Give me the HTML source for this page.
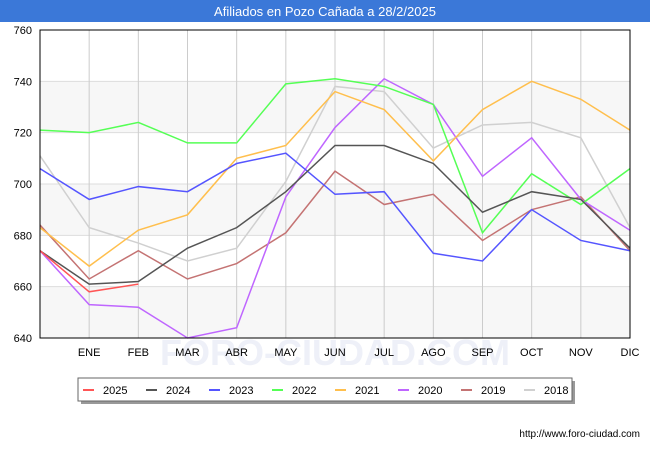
<!DOCTYPE html>
<html><head><meta charset="utf-8"><style>
body{margin:0;width:650px;height:450px;background:#fff;font-family:"Liberation Sans","DejaVu Sans",sans-serif;overflow:hidden}
</style></head><body>
<svg width="650" height="450" viewBox="0 0 650 450" xmlns="http://www.w3.org/2000/svg">
<rect x="0" y="0" width="650" height="22" fill="#3b78d8"/>
<text x="325" y="16" text-anchor="middle" font-size="13" fill="#fff">Afiliados en Pozo Cañada a 28/2/2025</text>
<g id="bands"></g>
<g id="grid"></g>
<text x="335" y="365" text-anchor="middle" font-size="36" fill="#eef0f8" font-weight="bold">FORO-CIUDAD.COM</text>
<g id="series"></g>
<rect x="40" y="30" width="590" height="308" fill="none" stroke="#000" stroke-width="1"/>
<g id="axes"></g>
<rect x="81" y="381" width="494" height="23" fill="#999"/>
<rect x="78" y="378" width="494" height="23" fill="#fff" stroke="#666"/>
<g id="legend"></g>
<text x="640" y="437" text-anchor="end" font-size="10" fill="#000">http://www.foro-ciudad.com</text>
</svg>
<script>
const months=["","ENE","FEB","MAR","ABR","MAY","JUN","JUL","AGO","SEP","OCT","NOV","DIC"];
const yTicks=[640,660,680,700,720,740,760];
const years=["2025","2024","2023","2022","2021","2020","2019","2018"];
const colors=["#ff5555","#555555","#5555ff","#55ff55","#ffbf4d","#bf66ff","#c47373","#d0d0d0"];
const s2025=[674,658,661];
const s2024=[674,661,662,675,683,697,715,715,708,689,697,694,675];
const s2023=[706,694,699,697,708,712,696,697,673,670,690,678,674];
const s2022=[721,720,724,716,716,739,741,738,731,681,704,692,706];
const s2021=[683,668,682,688,710,715,736,729,709,729,740,733,721];
const s2020=[674,653,652,640,644,695,722,741,731,703,718,694,682];
const s2019=[684,663,674,663,669,681,705,692,696,678,690,695,674];
const s2018=[711,683,677,670,675,701,738,736,714,723,724,718,683];
const allSeries=[s2025,s2024,s2023,s2022,s2021,s2020,s2019,s2018];
const NS="http://www.w3.org/2000/svg";
const X0=40,X1=630,Y0=338,Y1=30,VMIN=640,VMAX=760;
const xS=i=>X0+i*(X1-X0)/12;
const yS=v=>Y0-(v-VMIN)*(Y0-Y1)/(VMAX-VMIN);
function mk(tag,attrs,parent){const e=document.createElementNS(NS,tag);for(const k in attrs)e.setAttribute(k,attrs[k]);parent.appendChild(e);return e;}
const bands=document.getElementById('bands'),grid=document.getElementById('grid'),axes=document.getElementById('axes'),ser=document.getElementById('series'),leg=document.getElementById('legend');
for(let k=0;k<yTicks.length-1;k++){
  if(k%2===0){const r=mk('rect',{x:X0,y:yS(yTicks[k+1]),width:X1-X0,height:yS(yTicks[k])-yS(yTicks[k+1]),fill:'#f7f7f7'},bands);
  
  }
}
yTicks.forEach(t=>{
  const l=mk('line',{x1:X0,x2:X1,y1:yS(t),y2:yS(t),stroke:'#dddddd'},grid);
  
  
  const tx=mk('text',{x:X0-8,y:yS(t)+4,'text-anchor':'end','font-size':'11',fill:'#000'},axes);
  tx.textContent=t;
  
  
});
months.forEach((m,i)=>{
  if(i===0)return;
  const l=mk('line',{x1:xS(i),x2:xS(i),y1:Y1,y2:Y0,stroke:'#cccccc'},grid);
  
  
  const tx=mk('text',{x:xS(i),y:356,'text-anchor':'middle','font-size':'11',fill:'#000'},axes);
  tx.textContent=m;
  
  
});
for(let s=allSeries.length-1;s>=0;s--){
  const pts=allSeries[s].map((v,i)=>xS(i)+','+yS(v)).join(' ');
  const p=mk('polyline',{points:pts,fill:'none',stroke:colors[s],'stroke-width':'1.5'},ser);
  
  
}
years.forEach((y,i)=>{
  const x=83+i*63;
  const sw=mk('rect',{x:x,y:389,width:11,height:2,fill:colors[i]},leg);
  
  
  const tx=mk('text',{x:x+20,y:394,'font-size':'11',fill:'#000'},leg);
  tx.textContent=y;
  
  
});
</script>
</body></html>
